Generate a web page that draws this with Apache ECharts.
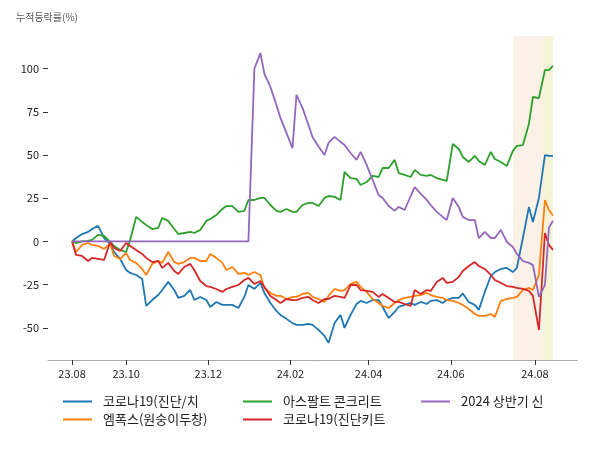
<!DOCTYPE html>
<html><head><meta charset="utf-8">
<script src="https://cdn.jsdelivr.net/npm/echarts@6/dist/echarts.min.js"></script>
<style>html,body{margin:0;padding:0;background:#fff}#c{width:600px;height:450px}</style>
</head><body><div id="c"></div>
<script>
// trading-session index (0 = first session, 23.08)
const sessions = [0,2,5,8,10,13,16,19,21,24,27,29,32,35,37,40,43,45,48,51,53,56,59,61,64,67,69,72,75,77,80,83,86,88,91,94,96,99,102,104,107,110,112,115,118,120,123,126,128,131,134,136,139,142,144,147,150,153,155,158,161,163,166,169,171,174,177,179,182,185,187,190,193,195,198,201,203,206,209,211,214,217,220,222,225,228,230,233,236,238,240];
const tickSessions = [0,27,68,109,148,189,231];
const tickLabels = ['23.08','23.10','23.12','24.02','24.04','24.06','24.08'];
const yTicks = [-50,-25,0,25,50,75,100];
const seriesNames = ['코로나19(진단/치','엠폭스(원숭이두창)','아스팔트 콘크리트','코로나19(진단키트','2024 상반기 신'];
const covidTreat = [0,2,4.3,5.5,7.2,9,2,-1.4,-6.1,-10.1,-16.5,-18.2,-19.4,-21.7,-37.3,-33.9,-31,-28.1,-23.4,-28.1,-32.7,-31.5,-28.1,-33.9,-32.1,-33.9,-37.9,-35,-36.7,-36.7,-36.7,-38.5,-32.1,-25.2,-27.5,-24,-29.8,-35.6,-40.2,-42.5,-44.8,-47.2,-48.3,-48.3,-47.7,-48.3,-51.2,-54.7,-58.7,-47.2,-42.5,-50,-42.5,-36.2,-34.4,-35.6,-33.9,-33.9,-37.9,-44.3,-40.8,-37.9,-36.7,-35.6,-36.7,-35,-36.2,-34.4,-33.9,-35.6,-33.9,-32.7,-32.7,-30.1,-35,-36.7,-39.6,-29.2,-20,-17.7,-15.9,-15.3,-17.7,-15.3,2,20,11.3,25.2,50,49.5,49.5];
const mpox = [0,-6.1,-2,-0.9,-2,-2.6,-4.3,-1.4,-8.4,-10.1,-6.7,-10.7,-12.4,-15.9,-19.4,-13,-11.3,-12.4,-6.1,-11.9,-13,-11.9,-9.5,-9.5,-11.3,-11.3,-7.2,-9.5,-12.4,-16.5,-14.8,-18.8,-18.2,-19.4,-17.7,-19.4,-26.9,-29.8,-31.5,-31.5,-33.3,-32.1,-32.1,-30.4,-29.8,-32.1,-33.3,-35,-31.5,-27.5,-28.6,-28.1,-24.6,-23.4,-26.3,-29.2,-33.3,-35.6,-37.3,-38.5,-35.6,-33.9,-32.7,-32.1,-31.5,-31,-29.8,-31,-32.1,-32.7,-33.9,-34.4,-35.6,-36.7,-39.1,-42,-43.1,-43.1,-42,-43.7,-34.4,-33.3,-32.7,-32.1,-28.1,-26.9,-28.1,-19.4,24,18.2,15];
const asphalt = [0,-0.9,0,0.3,0.9,3.8,3.2,-0.3,-2.6,-4.9,-6.1,0.9,14.2,11.3,9.5,7.2,7.8,13.6,11.9,7.2,4.3,4.9,5.5,4.9,6.7,11.9,13,15.3,18.8,20.5,20.5,17.1,17.7,24,24,25.2,25.2,21.1,17.7,17.1,18.8,17.1,17.1,21.1,22.3,22.3,20.5,25.2,26.3,25.8,24,40.2,36.7,36.2,32.7,34.4,37.9,37.3,42.5,42.5,47.2,39.6,38.5,37.3,41.4,38.5,37.9,38.5,36.7,35.6,35,56.4,53.5,48.9,46,49.5,46.6,44.3,51.8,47.7,46,43.7,52.4,55.3,55.8,68,83.6,83,99.2,99.2,101.6];
const covidKit = [0,-7.8,-8.4,-11.3,-9.5,-10.1,-10.7,-0.3,-3.8,-5.5,-0.9,-2.6,-4.9,-7.2,-9.5,-11.9,-11.3,-15.3,-12.4,-17.1,-18.8,-14.8,-13,-16.5,-22.9,-25.8,-26.3,-27.5,-29.2,-27.5,-26.3,-25.2,-22.3,-21.1,-24.6,-22.9,-26.3,-31.5,-33.9,-35.6,-33.3,-33.9,-33.9,-32.7,-32.1,-33.9,-35.6,-33.3,-33.3,-31.5,-32.1,-32.7,-25.2,-25.2,-28.1,-28.6,-29.2,-32.1,-30.4,-32.7,-35,-35,-36.2,-37.3,-28.1,-30.4,-28.1,-28.6,-23.4,-21.1,-24,-23.4,-20.5,-17.1,-14.2,-11.9,-14.2,-15.9,-19.4,-22.3,-24,-25.8,-26.3,-26.9,-27.5,-28.6,-31.5,-51.2,4.9,-2,-4.9];
const h1New = [0,0,0,0,0,0,0,0,0,0,0,0,0,0,0,0,0,0,0,0,0,0,0,0,0,0,0,0,0,0,0,0,0,0,100,109,97,89.4,79,71.5,62.8,54,84.8,77.3,67.4,60.5,54.9,50,57,60.5,57.6,55.8,51.2,47.2,51.8,44.3,35.6,26.9,25.2,20.5,17.7,20,18.2,26.3,31.5,27.5,24,21.1,17.1,14.2,12.4,25.2,20,14.2,12.4,12.4,2,5.5,2,2,6.7,-0.3,-3.2,-7.2,-11.3,-12.4,-13.6,-32,-25.2,8,12];
const peachBand = [220,235];
const yellowBand = [235,240];

const colors = ['#1f77b4','#ff7f0e','#2ca02c','#d62728','#9467bd'];
const valuesList = [covidTreat, mpox, asphalt, covidKit, h1New];
const pair = v => sessions.map((s,i)=>[s, v[i]]);
const font = '"Noto Sans CJK KR", "Noto Sans", sans-serif';

const series = [{
  type:'line', name:'_bands', data:[], z:1, silent:true,
  markArea:{silent:true, data:[
    [{xAxis:peachBand[0], itemStyle:{color:'#fcf1e7'}},{xAxis:peachBand[1]}],
    [{xAxis:yellowBand[0], itemStyle:{color:'#f6f3d9'}},{xAxis:yellowBand[1]}]
  ]}
}];
seriesNames.forEach((n,i)=>series.push({
  type:'line', name:n, data:pair(valuesList[i]), showSymbol:false, z:2,
  lineStyle:{width:1.8, color:colors[i]}, itemStyle:{color:colors[i]}
}));

const legendBase = {orient:'vertical', icon:'rect', itemWidth:29, itemHeight:2, itemGap:5,
  textStyle:{fontFamily:font, fontSize:13, color:'#222', padding:[0,0,0,6]}};

const chart = echarts.init(document.getElementById('c'), null, {renderer:'canvas'});
chart.setOption({
  animation:false,
  color:colors,
  title:{text:'누적등락률(%)', left:11, top:7, textStyle:{fontFamily:font, fontSize:10, fontWeight:'normal', color:'#555'}},
  grid:{left:48, right:23, top:36, bottom:90},
  xAxis:{type:'value', min:-12, max:252,
    axisLine:{onZero:false, lineStyle:{color:'#aaa'}},
    axisTick:{customValues:tickSessions, length:5, lineStyle:{color:'#333'}},
    axisLabel:{customValues:tickSessions, margin:8, fontFamily:font, fontSize:11, color:'#222',
      formatter:v=>tickLabels[tickSessions.indexOf(v)]},
    splitLine:{show:false}},
  yAxis:{type:'value', min:-68.6, max:118.9,
    axisLine:{show:false, onZero:false},
    axisTick:{show:true, customValues:yTicks, length:5, lineStyle:{color:'#333'}},
    axisLabel:{customValues:yTicks, margin:9, fontFamily:font, fontSize:11, color:'#222'},
    splitLine:{show:false}},
  legend:[
    Object.assign({left:58, top:390, data:[seriesNames[0], seriesNames[1]]}, legendBase),
    Object.assign({left:238, top:390, data:[seriesNames[2], seriesNames[3]]}, legendBase),
    Object.assign({left:416, top:390, data:[seriesNames[4]]}, legendBase)
  ],
  series:series
});
</script></body></html>
